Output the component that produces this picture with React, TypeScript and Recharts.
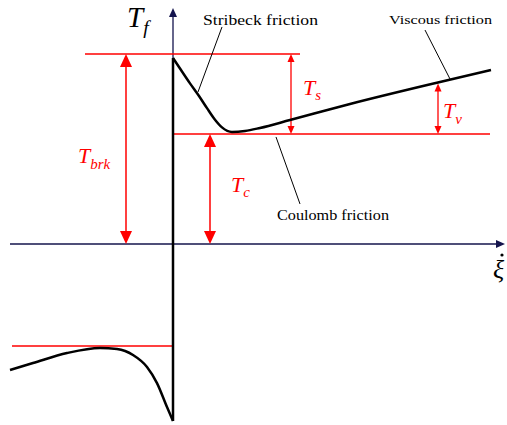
import { LineChart, Line, XAxis, YAxis, ReferenceLine, ReferenceDot } from 'recharts';

// friction curve (velocity v, torque t)
const negV = [-1.63, -1.4, -1.06, -0.73, -0.56, -0.4, -0.26, -0.16, -0.06, 0];
const negT = [-1.145, -1.082, -0.991, -0.945, -0.955, -1.009, -1.118, -1.264, -1.482, -1.609];
const posV = [0, 0.07, 0.17, 0.26, 0.34, 0.42, 0.49, 0.59, 0.72, 0.87, 1.17, 1.77, 2.67, 3.18];
const posT = [1.691, 1.595, 1.46, 1.345, 1.235, 1.13, 1.06, 1.018, 1.027, 1.055, 1.127, 1.273, 1.473, 1.582];

// levels
const T_BRK = 1.727;
const T_C = 1.0;
const T_NEG = -0.927;
const T_VISC = 1.46;

const negBranch = negV.map((v, i) => ({ v, t: negT[i] }));
const posBranch = posV.map((v, i) => ({ v, t: posT[i] }));
const jump = [
  { v: 0, t: negT[negT.length - 1] },
  { v: 0, t: posT[0] },
];

const RED = '#ff0000';
const NAVY = '#14144d';
const SERIF = '"Liberation Serif", "DejaVu Serif", serif';

const arrowShape = (color: string, len: number, half: number, sw: number, start: boolean, end: boolean) =>
  (p: any) => {
    const { x1, y1, x2, y2 } = p;
    const dx = x2 - x1;
    const dy = y2 - y1;
    const d = Math.hypot(dx, dy) || 1;
    const ux = dx / d;
    const uy = dy / d;
    const head = (tx: number, ty: number, sx: number, sy: number) => {
      const bx = tx - sx * len;
      const by = ty - sy * len;
      return `${tx},${ty} ${bx - sy * half},${by + sx * half} ${bx + sy * half},${by - sx * half}`;
    };
    const ax = start ? x1 + ux * len * 0.8 : x1;
    const ay = start ? y1 + uy * len * 0.8 : y1;
    const bx = end ? x2 - ux * len * 0.8 : x2;
    const by = end ? y2 - uy * len * 0.8 : y2;
    return (
      <g>
        <line x1={ax} y1={ay} x2={bx} y2={by} stroke={color} strokeWidth={sw} />
        {start && <polygon points={head(x1, y1, -ux, -uy)} fill={color} />}
        {end && <polygon points={head(x2, y2, ux, uy)} fill={color} />}
      </g>
    );
  };

const textShape = (content: React.ReactNode, size: number, color = '#000', italic = false, width?: number) =>
  (p: any) => (
    <text x={p.cx} y={p.cy} fontFamily={SERIF} fontSize={size} fill={color}
      fontStyle={italic ? 'italic' : 'normal'}
      textLength={width} lengthAdjust={width ? 'spacingAndGlyphs' : undefined}>
      {content}
    </text>
  );

const math = (main: string, sub: string, size: number, color: string) =>
  textShape(
    <>
      {main}
      <tspan fontSize={size * 0.68} dy={size * 0.25}>{sub}</tspan>
    </>,
    size,
    color,
    true,
  );

const lineProps = {
  dataKey: 't',
  dot: false,
  activeDot: false,
  stroke: '#000',
  strokeWidth: 2.5,
  isAnimationActive: false,
} as const;

export default function App() {
  return (
    <div style={{ position: 'absolute', left: 0, top: 0, background: '#fff' }}>
      <LineChart width={507} height={425} margin={{ top: 0, right: 0, bottom: 0, left: 0 }}>
        <XAxis dataKey="v" type="number" domain={[-1.73, 3.34]} allowDataOverflow hide />
        <YAxis type="number" domain={[-1.645, 2.218]} allowDataOverflow hide />

        {/* axes */}
        <ReferenceLine segment={[{ x: -1.63, y: 0 }, { x: 3.32, y: 0 }]} ifOverflow="visible"
          shape={arrowShape(NAVY, 9, 4, 1.3, false, true)} />
        <ReferenceLine segment={[{ x: 0, y: -1.6 }, { x: 0, y: 2.145 }]} ifOverflow="visible"
          shape={arrowShape(NAVY, 9, 4, 1.3, false, true)} />

        {/* red levels */}
        <ReferenceLine segment={[{ x: -0.88, y: T_BRK }, { x: 1.27, y: T_BRK }]} stroke={RED} strokeWidth={1.5} />
        <ReferenceLine segment={[{ x: 0, y: T_C }, { x: 3.17, y: T_C }]} stroke={RED} strokeWidth={1.5} />
        <ReferenceLine segment={[{ x: -1.61, y: T_NEG }, { x: 0, y: T_NEG }]} stroke={RED} strokeWidth={1.5} />

        {/* dimension arrows */}
        <ReferenceLine segment={[{ x: -0.47, y: T_BRK }, { x: -0.47, y: 0 }]} shape={arrowShape(RED, 13, 6, 1.5, true, true)} />
        <ReferenceLine segment={[{ x: 0.37, y: T_C }, { x: 0.37, y: 0 }]} shape={arrowShape(RED, 13, 6, 1.5, true, true)} />
        <ReferenceLine segment={[{ x: 1.18, y: T_BRK }, { x: 1.18, y: T_C }]} shape={arrowShape(RED, 8, 3.5, 1.3, true, true)} />
        <ReferenceLine segment={[{ x: 2.65, y: T_VISC }, { x: 2.65, y: T_C }]} shape={arrowShape(RED, 8, 3.5, 1.3, true, true)} />

        {/* leader lines */}
        <ReferenceLine segment={[{ x: 0.49, y: 1.973 }, { x: 0.25, y: 1.382 }]} stroke="#000" strokeWidth={1} />
        <ReferenceLine segment={[{ x: 2.52, y: 1.945 }, { x: 2.77, y: 1.5 }]} stroke="#000" strokeWidth={1} />
        <ReferenceLine segment={[{ x: 1.03, y: 0.973 }, { x: 1.27, y: 0.364 }]} stroke="#000" strokeWidth={1} />

        <Line {...lineProps} data={negBranch} type="monotone" />
        <Line {...lineProps} data={jump} type="linear" />
        <Line {...lineProps} data={posBranch} type="monotone" />

        {/* labels */}
        <ReferenceDot x={0.3} y={1.99} r={0} shape={textShape('Stribeck friction', 14, '#000', false, 115)} />
        <ReferenceDot x={2.16} y={2.0} r={0} shape={textShape('Viscous friction', 12.5, '#000', false, 103)} />
        <ReferenceDot x={1.04} y={0.218} r={0} shape={textShape('Coulomb friction', 14, '#000', false, 112)} />
        <ReferenceDot x={-0.46} y={1.973} r={0} shape={math('T', 'f', 29, '#000')} />
        <ReferenceDot x={-0.95} y={0.736} r={0} shape={math('T', 'brk', 22, RED)} />
        <ReferenceDot x={0.58} y={0.473} r={0} shape={math('T', 'c', 22, RED)} />
        <ReferenceDot x={1.3} y={1.355} r={0} shape={math('T', 's', 22, RED)} />
        <ReferenceDot x={2.7} y={1.145} r={0} shape={math('T', 'v', 22, RED)} />
        <ReferenceDot x={3.2} y={-0.31} r={0} ifOverflow="visible" shape={textShape('ξ', 26, '#000', true)} />
        <ReferenceDot x={3.29} y={-0.1} r={1.6} fill="#000" stroke="none" ifOverflow="visible" />
      </LineChart>
    </div>
  );
}
